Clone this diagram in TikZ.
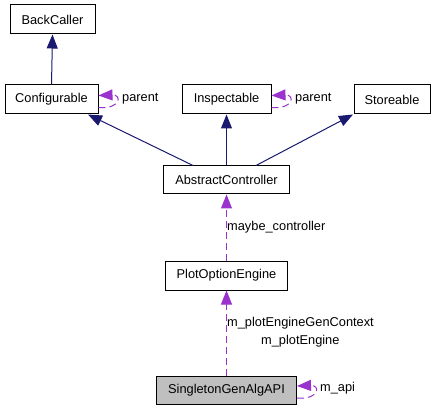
\documentclass[tikz,border=0pt]{standalone}
\usepackage{fontspec}
\setmainfont{Liberation Sans}
\usetikzlibrary{arrows.meta,calc}
\definecolor{navy}{HTML}{191970}
\definecolor{orchid}{HTML}{9A32CD}
\definecolor{boxgray}{HTML}{BFBFBF}
\begin{document}
\begin{tikzpicture}[x=1pt,y=-1pt,
  cls/.style={draw=black,line width=1pt,inner sep=0pt,minimum height=29pt,font=\fontsize{12.8}{14}\selectfont},
  inh/.style={draw=navy,line width=1pt,-{Triangle[length=14pt,width=11pt]},navy},
  dep/.style={draw=orchid,line width=1pt,dash pattern=on 7pt off 4pt,-{Triangle[length=14pt,width=11pt]},orchid},
  lbl/.style={anchor=west,inner sep=0pt,font=\fontsize{12.8}{14}\selectfont}]
\useasboundingbox (0,0) rectangle (435,411);
\node[cls,minimum width=85pt] (bc) at (52.5,19.5) {BackCaller};
\node[cls,minimum width=93pt] (conf) at (51.5,99.5) {Configurable};
\node[cls,minimum width=89pt] (insp) at (226.5,99.5) {Inspectable};
\node[cls,minimum width=76pt] (st) at (392,99.5) {Storeable};
\node[cls,minimum width=126pt,minimum height=28pt] (ac) at (226.5,180) {AbstractController};
\node[cls,minimum width=122pt] (pe) at (226.5,275.5) {PlotOptionEngine};
\node[cls,minimum width=140pt,minimum height=28pt,fill=boxgray] (sg) at (226.5,390) {SingletonGenAlgAPI};

\draw[inh] (conf.north) -- (bc.south);
\draw[inh] ($(ac.north)+(-33.5,0)$) -- ($(conf.south)+(36.5,0)$);
\draw[inh] (ac.north) -- (insp.south);
\draw[inh] ($(ac.north)+(29.5,0)$) -- ($(st.south)+(-39,0)$);

\draw[dep] (pe.north) -- (ac.south);
\draw[dep] (sg.north) -- (pe.south);

\draw[dep] ($(conf.east)+(0,8)$) .. controls +(22,2) and +(24,-1) .. ($(conf.east)+(0,-4)$);
\draw[dep] ($(insp.east)+(0,8)$) .. controls +(22,2) and +(24,-1) .. ($(insp.east)+(0,-4)$);
\draw[dep] ($(sg.east)+(0,8)$) .. controls +(22,2) and +(24,-1) .. ($(sg.east)+(0,-4)$);

\node[lbl] (l1) at (122,99) {parent};
\node[lbl] (l2) at (295,99) {parent};
\node[lbl] (l3) at (227,227) {maybe\_controller};
\node[lbl] (l4) at (227,323) {m\_plotEngineGenContext};
\node[lbl] (l5) at (261,341) {m\_plotEngine};
\node[lbl] (l6) at (320,388) {m\_api};
\end{tikzpicture}
\end{document}
